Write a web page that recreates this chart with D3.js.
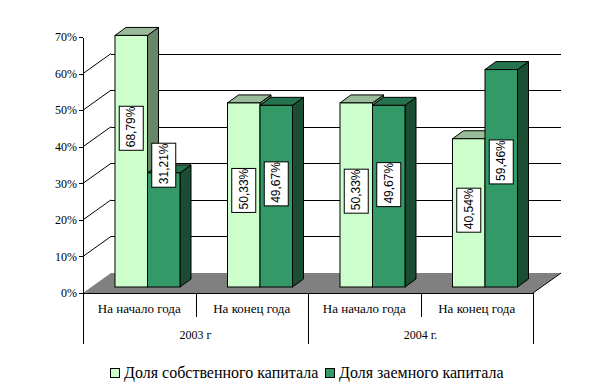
<!DOCTYPE html>
<html>
<head>
<meta charset="utf-8">
<script src="https://cdn.jsdelivr.net/npm/d3@7"></script>
<style>
  html, body { margin: 0; padding: 0; background: #fff; }
  svg { display: block; }
  text { font-family: "Liberation Serif", serif; fill: #000; }
</style>
</head>
<body>
<svg id="chart" width="612" height="392"></svg>
<script>
const categories = ["На начало года", "На конец года", "На начало года", "На конец года"];
const years = ["2003 г", "2004 г."];
const seriesNames = ["Доля собственного капитала", "Доля заемного капитала"];
const ownShare = [68.79, 50.33, 50.33, 40.54];
const debtShare = [31.21, 49.67, 49.67, 59.46];
const yTicks = [0, 10, 20, 30, 40, 50, 60, 70];
// the labels were moved by hand in the original, so they sit at their own heights
const ownLabelAt = [43.4, 26.4, 26.2, 21];
const debtLabelAt = [33.3, 28.2, 28, 34.2];

const lightColors = { front: "#CCFFCC", top: "#99BB99", side: "#668866" };
const darkColors = { front: "#339966", top: "#267350", side: "#1A4D33" };

let svg = d3.select("#chart");

let plotLeft = 83, plotRight = 533, plotTop = 37, plotBottom = 293;
let wallX = 28, wallY = 20;   // offset of the back wall
let barX = 11, barY = 8;      // depth of a bar
let barLift = 6;              // bars stand a little behind the front edge

let x0 = d3.scaleBand().domain(d3.range(categories.length)).range([plotLeft, plotRight]);
let x1 = d3.scaleBand().domain([0, 1]).range([32, 97]);
let xYear = d3.scaleBand().domain(years).range([plotLeft, plotRight]);
let y = d3.scaleLinear().domain([0, 70]).range([plotBottom, plotTop]);

// floor
svg.append("path")
  .attr("d", "M" + [[plotLeft, plotBottom], [plotLeft + wallX, plotBottom - wallY], [plotRight + wallX, plotBottom - wallY], [plotRight, plotBottom]].join("L") + "Z")
  .attr("fill", "#808080");

// grid lines, side wall then back wall
let gridTicks = yTicks.filter(d => d > 0 && d < 70);
svg.selectAll(".wall")
  .data(gridTicks)
  .enter().append("line")
  .attr("x1", plotLeft)
  .attr("x2", plotLeft + wallX)
  .attr("y1", d => y(d))
  .attr("y2", d => y(d) - wallY)
  .attr("stroke", "#000");
svg.selectAll(".grid")
  .data(gridTicks)
  .enter().append("line")
  .attr("x1", plotLeft + wallX)
  .attr("x2", plotRight + wallX)
  .attr("y1", d => Math.round(y(d) - wallY) + 0.5)
  .attr("y2", d => Math.round(y(d) - wallY) + 0.5)
  .attr("stroke", "#000");

// y axis
let yAxis = svg.append("g")
  .attr("transform", "translate(" + plotLeft + ",0)")
  .call(d3.axisLeft(y).tickValues(yTicks).tickSize(4).tickSizeOuter(0).tickFormat(d => d + "%"));
yAxis.selectAll("text")
  .attr("x", -6)
  .style("font-family", "Liberation Serif")
  .style("font-size", "12px");
yAxis.selectAll("line, path").attr("stroke", "#000").attr("shape-rendering", "crispEdges");

// bars
function drawBars(values, s, colors) {
  let g = svg.append("g")
    .attr("stroke", "#000")
    .attr("stroke-linejoin", "miter");
  let w = x1.bandwidth();
  let bar = g.selectAll("g")
    .data(values)
    .enter().append("g")
    .attr("transform", (d, i) => "translate(" + (x0(i) + x1(s)) + "," + (-barLift) + ")");
  bar.append("path")
    .attr("fill", colors.side)
    .attr("d", d => "M" + [[w, y(d)], [w + barX, y(d) - barY], [w + barX, y(0) - barY], [w, y(0)]].join("L") + "Z");
  bar.append("path")
    .attr("fill", colors.top)
    .attr("d", d => "M" + [[0, y(d)], [barX, y(d) - barY], [w + barX, y(d) - barY], [w, y(d)]].join("L") + "Z");
  bar.append("rect")
    .attr("x", 0)
    .attr("y", d => y(d))
    .attr("width", w)
    .attr("height", d => y(0) - y(d))
    .attr("fill", colors.front);
}
drawBars(ownShare, 0, lightColors);
drawBars(debtShare, 1, darkColors);

// value labels
function drawLabels(values, labelAt, s) {
  let label = svg.append("g").selectAll("g")
    .data(values)
    .enter().append("g")
    .attr("transform", (d, i) => "translate(" + (x0(i) + x1(s) + x1.bandwidth() / 2) + "," + (y(labelAt[i]) - barLift) + ")");
  label.append("rect")
    .attr("x", -12)
    .attr("y", -22)
    .attr("width", 24)
    .attr("height", 44)
    .attr("fill", "#fff")
    .attr("stroke", "#000");
  label.append("text")
    .attr("transform", "translate(4,19) rotate(-90)")
    .style("font-family", "Liberation Sans")
    .style("font-size", "12px")
    .text(d => d.toFixed(2).replace(".", ",") + "%");
}
drawLabels(ownShare, ownLabelAt, 0);
drawLabels(debtShare, debtLabelAt, 1);

// x axis with two levels of labels
let xAxis = svg.append("g")
  .attr("transform", "translate(0," + plotBottom + ")")
  .call(d3.axisBottom(x0).tickSize(0).tickFormat(i => categories[i]));
xAxis.select("path").attr("stroke", "#000").attr("shape-rendering", "crispEdges");
xAxis.selectAll("text")
  .attr("y", 11)
  .style("font-family", "Liberation Serif")
  .style("font-size", "13px");

let yearAxis = svg.append("g")
  .attr("transform", "translate(0," + plotBottom + ")")
  .call(d3.axisBottom(xYear).tickSize(0));
yearAxis.select("path").remove();
yearAxis.selectAll("text")
  .attr("y", 37)
  .style("font-family", "Liberation Serif")
  .style("font-size", "12px");

// separators
svg.selectAll(".sep")
  .data(d3.range(categories.length + 1))
  .enter().append("line")
  .attr("x1", i => Math.round(plotLeft + i * x0.bandwidth()) + 0.5)
  .attr("x2", i => Math.round(plotLeft + i * x0.bandwidth()) + 0.5)
  .attr("y1", plotBottom)
  .attr("y2", i => i % 2 === 0 ? plotBottom + 51 : plotBottom + 24)
  .attr("stroke", "#000");

// slanted edge of the floor on the right
svg.append("line")
  .attr("x1", plotRight)
  .attr("y1", plotBottom)
  .attr("x2", plotRight + wallX)
  .attr("y2", plotBottom - wallY)
  .attr("stroke", "#000");

// legend
let legendX = [110, 325];
let legend = svg.selectAll(".legend")
  .data(seriesNames)
  .enter().append("g")
  .attr("transform", (d, i) => "translate(" + legendX[i] + ",368)");
legend.append("rect")
  .attr("x", 0.5)
  .attr("y", 0.5)
  .attr("width", 9)
  .attr("height", 9)
  .attr("fill", (d, i) => i === 0 ? lightColors.front : darkColors.front)
  .attr("stroke", "#000");
legend.append("text")
  .attr("x", 14)
  .attr("y", 10)
  .style("font-size", "16px")
  .text(d => d);
</script>
</body>
</html>
